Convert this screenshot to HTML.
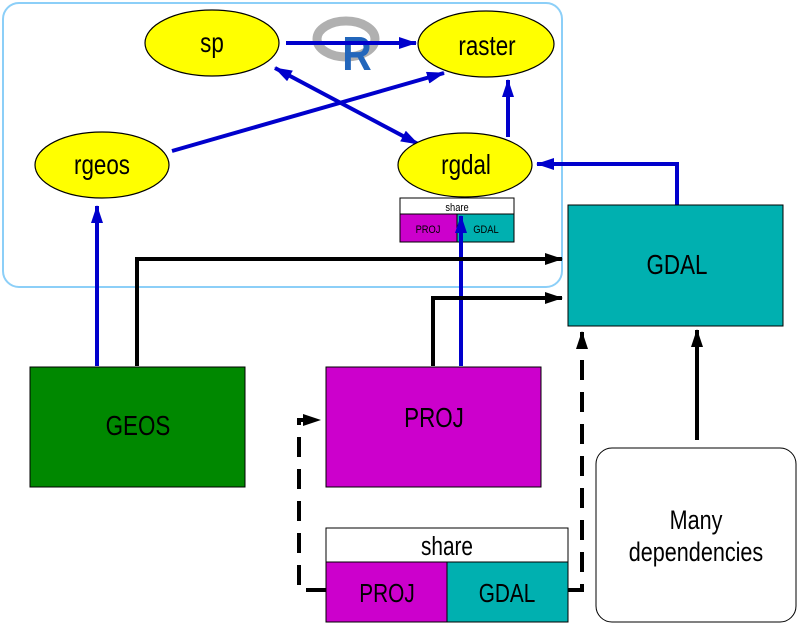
<!DOCTYPE html>
<html><head><meta charset="utf-8"><style>
html,body{margin:0;padding:0;background:#fff;}
text{font-family:"Liberation Sans",sans-serif;}
</style></head><body>
<svg width="800" height="624" viewBox="0 0 800 624" xmlns="http://www.w3.org/2000/svg">
<defs>
<marker id="ab2" markerWidth="18" markerHeight="12" refX="17" refY="6" orient="auto-start-reverse" markerUnits="userSpaceOnUse"><path d="M0,0 L18,6 L0,12 z" fill="#0000cc"/></marker>
<marker id="ak" markerWidth="18" markerHeight="12" refX="17" refY="6" orient="auto" markerUnits="userSpaceOnUse"><path d="M0,0 L18,6 L0,12 z" fill="#000"/></marker>
</defs>
<rect x="3" y="3" width="559" height="284" rx="16" fill="none" stroke="#8ccff8" stroke-width="2"/>
<!-- R logo -->
<ellipse cx="346" cy="39" rx="29" ry="18" fill="none" stroke="#b0b0b0" stroke-width="9"/>
<g transform="translate(357,70) scale(0.85,1)"><text x="0" y="0" font-size="48" font-weight="bold" fill="#2266bb" text-anchor="middle">R</text></g>
<g stroke="#0000cc" stroke-width="4" fill="none">
<line x1="286" y1="43" x2="416" y2="43" marker-end="url(#ab2)"/>
<line x1="172" y1="151" x2="444" y2="73" marker-end="url(#ab2)"/>
<line x1="275" y1="68" x2="418" y2="144" marker-start="url(#ab2)" marker-end="url(#ab2)"/>
<line x1="508" y1="137" x2="508" y2="80" marker-end="url(#ab2)"/>
<polyline points="677,205 677,164 537,164" marker-end="url(#ab2)"/>
<line x1="97" y1="366" x2="97" y2="206" marker-end="url(#ab2)"/>
</g>
<g stroke="#000" stroke-width="1.2" fill="#ffff00">
<ellipse cx="212" cy="43" rx="67" ry="33"/>
<ellipse cx="486" cy="44" rx="68" ry="33"/>
<ellipse cx="102" cy="165" rx="67" ry="33"/>
<ellipse cx="465" cy="165" rx="67" ry="32"/>
</g>
<g font-size="28" text-anchor="middle">
<g transform="translate(212,52) scale(0.8,1)"><text>sp</text></g>
<g transform="translate(487,55) scale(0.8,1)"><text>raster</text></g>
<g transform="translate(102,174) scale(0.8,1)"><text>rgeos</text></g>
<g transform="translate(466,174) scale(0.8,1)"><text>rgdal</text></g>
</g>
<!-- small share -->
<rect x="400" y="198" width="114" height="16" fill="#fff" stroke="#000"/>
<rect x="400" y="214" width="57" height="28" fill="#cc00cc" stroke="#000"/>
<rect x="457" y="214" width="57" height="28" fill="#00b0b0" stroke="#000"/>
<g font-size="11" text-anchor="middle">
<g transform="translate(457,211) scale(0.85,1)"><text>share</text></g>
<g transform="translate(428,233) scale(0.85,1)"><text>PROJ</text></g>
<g transform="translate(486,233) scale(0.85,1)"><text>GDAL</text></g>
</g>
<line x1="461" y1="366" x2="461" y2="216" stroke="#0000cc" stroke-width="4" marker-end="url(#ab2)"/>
<!-- boxes -->
<rect x="568" y="205" width="215" height="121" fill="#00b0b0" stroke="#000"/>
<rect x="30" y="367" width="215" height="120" fill="#008800" stroke="#000"/>
<rect x="326" y="367" width="215" height="120" fill="#cc00cc" stroke="#000"/>
<g font-size="28" text-anchor="middle">
<g transform="translate(677,274) scale(0.8,1)"><text>GDAL</text></g>
<g transform="translate(138,435) scale(0.8,1)"><text>GEOS</text></g>
<g transform="translate(434,427) scale(0.8,1)"><text>PROJ</text></g>
</g>
<g stroke="#000" stroke-width="4" fill="none">
<polyline points="137,366 137,259 562,259" marker-end="url(#ak)"/>
<polyline points="433,366 433,298 562,298" marker-end="url(#ak)"/>
<line x1="697" y1="440" x2="697" y2="330" marker-end="url(#ak)"/>
<polyline points="326,590 299,590 299,420 320,420" stroke-dasharray="20,12" marker-end="url(#ak)"/>
<polyline points="568,590 582,590 582,332" stroke-dasharray="20,12" marker-end="url(#ak)"/>
</g>
<rect x="596" y="448" width="200" height="174" rx="16" fill="#fff" stroke="#000"/>
<g font-size="27" text-anchor="middle">
<g transform="translate(696,529) scale(0.8,1)"><text>Many</text></g>
<g transform="translate(696,561) scale(0.8,1)"><text>dependencies</text></g>
</g>
<rect x="326" y="528" width="242" height="34" fill="#fff" stroke="#000"/>
<rect x="326" y="562" width="121" height="60" fill="#cc00cc" stroke="#000"/>
<rect x="447" y="562" width="121" height="60" fill="#00b0b0" stroke="#000"/>
<g font-size="26" text-anchor="middle">
<g transform="translate(447,555) scale(0.8,1)"><text>share</text></g>
<g transform="translate(387,602) scale(0.8,1)"><text>PROJ</text></g>
<g transform="translate(507,602) scale(0.8,1)"><text>GDAL</text></g>
</g>
</svg>
</body></html>
